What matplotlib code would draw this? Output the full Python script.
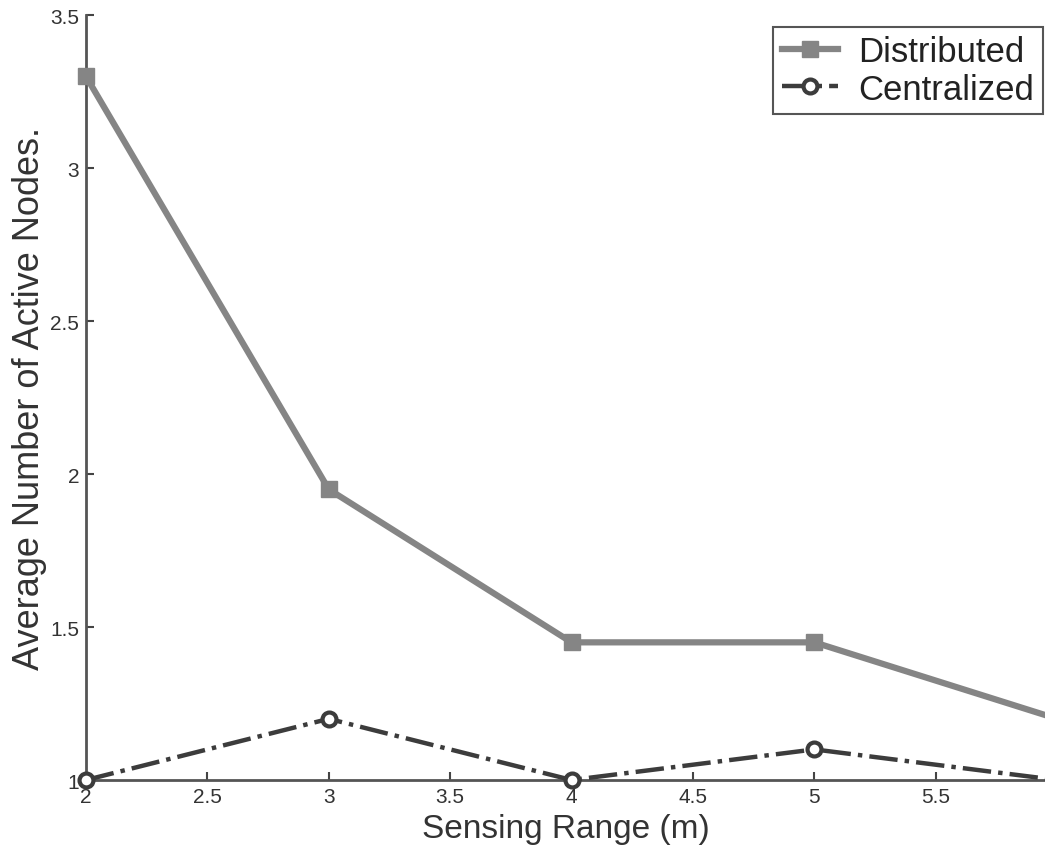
import matplotlib
matplotlib.use('Agg')
import matplotlib.pyplot as plt

plt.rcParams['font.family'] = ['Liberation Sans', 'DejaVu Sans']

sensing_range = [2, 3, 4, 5, 6]
distributed = [3.3, 1.95, 1.45, 1.45, 1.2]
centralized = [1.0, 1.2, 1.0, 1.1, 1.0]

xticks = [2, 2.5, 3, 3.5, 4, 4.5, 5, 5.5]
xticklabels = ['2', '2.5', '3', '3.5', '4', '4.5', '5', '5.5']
yticks = [1, 1.5, 2, 2.5, 3, 3.5]
yticklabels = ['1', '1.5', '2', '2.5', '3', '3.5']

fig = plt.figure(figsize=(10.45, 8.53), dpi=100)
ax = fig.add_axes([0.0823, 0.0844, 0.9177, 0.8966])

ax.plot(sensing_range, distributed, color='#858585', lw=4.5, marker='s',
        ms=11, mfc='#858585', mec='#858585', label='Distributed',
        clip_on=False, zorder=3)
ax.plot(sensing_range, centralized, color='#3c3c3c', lw=3.2, ls='-.',
        marker='o', ms=10, mfc='white', mec='#3c3c3c', mew=3,
        label='Centralized', clip_on=False, zorder=3)

ax.set_xlim(2, 5.95)
ax.set_ylim(1, 3.5)
ax.set_xticks(xticks)
ax.set_xticklabels(xticklabels)
ax.set_yticks(yticks)
ax.set_yticklabels(yticklabels)
ax.tick_params(direction='in', length=6, width=1.5, color='#444444',
               labelsize=15, labelcolor='#333333', pad=5)

for s in ['top', 'right']:
    ax.spines[s].set_visible(False)
for s in ['left', 'bottom']:
    ax.spines[s].set_color('#555555')
    ax.spines[s].set_linewidth(2)

ax.set_xlabel('Sensing Range (m)', fontsize=24, color='#333333', labelpad=5)
ax.set_ylabel('Average Number of Active Nodes.', fontsize=26,
              color='#333333', labelpad=2)

leg = ax.legend(loc='upper right', bbox_to_anchor=(0.998, 0.985),
                fontsize=25, fancybox=False, framealpha=1,
                edgecolor='#555555', borderaxespad=0, handlelength=1.6,
                handletextpad=0.6, borderpad=0.25, labelspacing=0.12)
leg.get_frame().set_linewidth(1.5)
for t in leg.get_texts():
    t.set_color('#222222')

fig.savefig('out.png', dpi=100)
